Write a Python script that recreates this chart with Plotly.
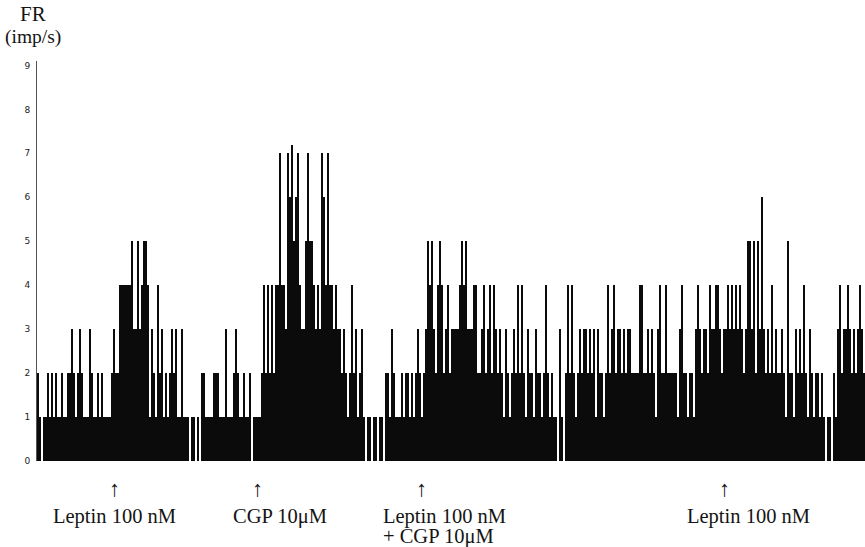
import plotly.graph_objects as go

# Firing rate (imp/s) per histogram bin, read from the scanned record, split by phase
rate_control = [2, 1, 0, 1, 1, 2, 1, 2, 1, 2, 1, 1, 2, 1, 1, 2, 2, 3, 2, 1,
                2, 3, 2, 1, 1, 1, 3, 2, 1, 1, 2, 1, 2, 1, 1, 1, 1, 2]
rate_leptin = [3, 2, 2, 4, 4, 4, 4, 4, 4, 5, 3, 3, 5, 3, 4, 5, 5, 4, 1, 3,
               2, 1, 4, 2, 3, 1, 2, 1, 2, 3, 2, 3, 1, 1, 3, 1, 1, 1, 0, 1,
               1, 0, 1, 0, 2, 2, 1, 1, 1, 1, 2, 2, 2, 1, 1, 1, 3, 1, 1, 1,
               2, 3, 2, 1, 1, 2, 1, 1, 2, 0, 1, 1]
rate_cgp = [1, 1, 2, 4, 2, 4, 2, 4, 2, 4, 4, 7, 4, 4, 3, 7, 6, 7.2, 5, 6,
            7, 4, 3, 3, 5, 7, 5, 5, 4, 3, 4, 3, 7, 6, 4, 7, 4, 4, 3, 4,
            3, 3, 2, 3, 2, 1, 2, 4, 2, 3, 1, 2, 3, 1, 0, 1, 1, 0, 1, 1,
            0, 1, 1, 0, 2, 2, 1, 3, 2, 1, 1, 1, 2, 1, 2, 2, 1, 2, 1, 2,
            3, 2]
rate_leptin_cgp = [1, 2, 3, 5, 4, 5, 3, 2, 4, 5, 4, 2, 3, 4, 2, 3, 3, 3, 3, 4,
                   5, 4, 5, 3, 3, 3, 4, 4, 2, 2, 3, 4, 2, 3, 4, 2, 4, 3, 2, 3,
                   2, 1, 3, 2, 1, 2, 3, 2, 4, 2, 4, 2, 1, 3, 2, 2, 1, 3, 2, 2,
                   1, 2, 4, 2, 1, 2, 1, 1, 0, 3, 1, 0, 2, 4, 2, 4, 2, 1, 2, 3,
                   2, 3, 3, 2, 3, 2, 3, 1, 3, 2, 2, 1, 2, 4, 2, 3, 4, 2, 3, 3,
                   2, 3, 2, 3, 3, 2, 2, 2, 2, 4, 4, 2, 2, 3, 2, 3, 2, 1, 3, 4,
                   2, 2, 4, 2, 2, 2, 2, 2, 1, 3, 4, 2, 2, 1, 2, 2, 1, 3, 4, 3,
                   2, 3, 3, 2, 4, 3, 3, 4, 4, 3, 2]
rate_leptin2 = [3, 3, 4, 3, 4, 3, 4, 3, 4, 3, 2, 3, 5, 5, 3, 5, 2, 5, 3, 6,
                3, 2, 3, 2, 4, 2, 3, 2, 2, 3, 2, 1, 5, 2, 2, 1, 3, 2, 3, 2,
                4, 2, 1, 3, 2, 1, 2, 2, 1, 2, 1, 0, 1, 1, 0, 2, 1, 3, 4, 2,
                3, 3, 4, 3, 2, 3, 2, 3, 4, 3, 2]

firing_rate = rate_control + rate_leptin + rate_cgp + rate_leptin_cgp + rate_leptin2
bins = list(range(len(firing_rate)))

# Drug application times (bin index) and their labels
event_bins = [38, 109.5, 191.5, 343]
event_labels = ["Leptin 100 nM", "CGP 10μM", "Leptin 100 nM", "Leptin 100 nM"]
event_sublabels = ["", "", "+ CGP 10μM", ""]
label_shift = [0, 23, -40, 24]
label_anchor = ["center", "center", "left", "center"]

y_ticks = [0, 1, 2, 3, 4, 5, 6, 7, 8, 9]

serif = "Liberation Serif, Times New Roman, serif"
ink = "#141414"
label_size = 20.5

fig = go.Figure()
fig.add_trace(go.Bar(
    x=bins, y=firing_rate, width=1.0,
    marker=dict(color="#0b0b0b", line=dict(width=0)),
    hoverinfo="skip", showlegend=False,
))

annotations = [
    dict(text="FR", xref="paper", yref="paper", x=0, y=1, xanchor="center", yanchor="middle",
         xshift=-4, yshift=47, showarrow=False, font=dict(family=serif, size=21, color=ink)),
    dict(text="(imp/s)", xref="paper", yref="paper", x=0, y=1, xanchor="center", yanchor="middle",
         xshift=-4, yshift=24, showarrow=False, font=dict(family=serif, size=19.5, color=ink)),
]
for xb, lab, sub, sh, anc in zip(event_bins, event_labels, event_sublabels, label_shift, label_anchor):
    annotations.append(dict(text="↑", xref="x", yref="paper", x=xb, y=0, xanchor="center",
                            yanchor="middle", yshift=-27, showarrow=False,
                            font=dict(family=serif, size=22, color=ink)))
    annotations.append(dict(text=lab, xref="x", yref="paper", x=xb, y=0, xanchor=anc,
                            yanchor="middle", yshift=-55, xshift=sh, showarrow=False,
                            font=dict(family=serif, size=label_size, color=ink)))
    if sub:
        annotations.append(dict(text=sub, xref="x", yref="paper", x=xb, y=0, xanchor=anc,
                                yanchor="middle", yshift=-75, xshift=sh, showarrow=False,
                                font=dict(family=serif, size=label_size, color=ink)))

fig.update_layout(
    width=865, height=547,
    margin=dict(l=37, r=0, t=61, b=86),
    paper_bgcolor="white", plot_bgcolor="white",
    bargap=0,
    xaxis=dict(range=[-0.5, len(firing_rate) - 0.5], visible=False, fixedrange=True),
    yaxis=dict(range=[0, 9.1], tickvals=y_ticks, ticktext=[str(v) for v in y_ticks],
               showline=True, linecolor="#555555", linewidth=1, ticks="",
               showgrid=False, zeroline=False, ticklabelstandoff=4,
               tickfont=dict(family="DejaVu Sans, Arial, sans-serif", size=9, color="#222222"),
               fixedrange=True),
    annotations=annotations,
)

fig.write_html("out.html", config={"displayModeBar": False})
